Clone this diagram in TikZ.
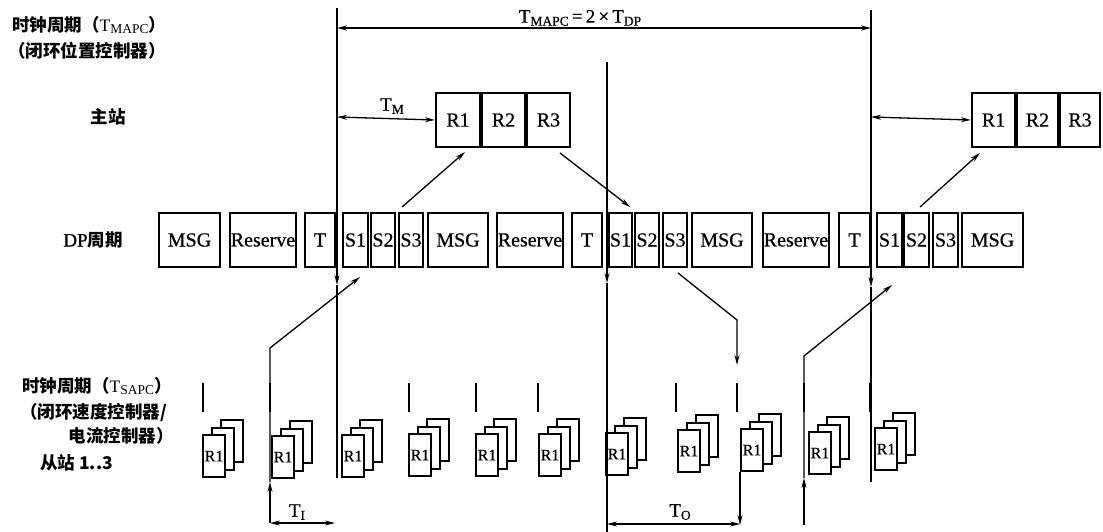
\documentclass[tikz,border=0pt]{standalone}
\usepackage{fontspec}
\setmainfont{Liberation Serif}
\newfontfamily\hs{Liberation Serif}[FakeBold=0.6]
\newfontfamily\cjk{Noto Sans CJK SC}
\usetikzlibrary{arrows.meta}
\newcommand\subs[1]{\raisebox{-0.35ex}{\fontsize{13.5}{13.5}\selectfont #1}}
\newcommand\cjf{\fontsize{17.5}{20}\selectfont\cjk\bfseries}
\newcommand\serT[1]{{\rmfamily\mdseries T\subs{#1}}}
\newcommand\rstack[3]{%
  \node[sk, anchor=north west] at (#2+18,#3-15) {};
  \node[sk, anchor=north west] at (#2+9,#3-7.5) {};
  \node[sk, anchor=north west] (#1) at (#2,#3) {R1};
}
\begin{document}
\begin{tikzpicture}[x=1pt,y=-1pt,
  box/.style={draw, line width=2.3pt, fill=white, inner sep=0pt, minimum height=54pt,
    font=\hs\fontsize{20}{20}\selectfont},
  sk/.style={draw, line width=2.1pt, fill=white, inner sep=0pt, minimum width=22pt,
    minimum height=42pt, font=\hs\fontsize{16}{16}\selectfont},
  arr/.style={-{Stealth[length=10pt,width=5pt]}, line width=1.3pt},
  dim/.style={{Stealth[length=10pt,width=5pt]}-{Stealth[length=10pt,width=5pt]}, line width=1.3pt},
  tl/.style={line width=1.7pt},
  tick/.style={line width=2pt},
  lab/.style={inner sep=0pt, font=\cjf},
  tx/.style={inner sep=0pt, font=\hs\fontsize{19}{20}\selectfont}
]
\useasboundingbox (0,0) rectangle (1103,532);

% ---------- left labels
\node[lab, anchor=west] (l1) at (12,25) {时钟周期（\serT{MAPC}）};
\node[lab, anchor=west] (l2) at (8,51) {（闭环位置控制器）};
\node[lab] (l3) at (108,117) {主站};
\node[lab] (l4) at (93,240) {{\hs\mdseries\fontsize{19}{20}\selectfont DP}周期};
\node[lab, anchor=west] (l5) at (22,386) {时钟周期（\serT{SAPC}）};
\node[lab, anchor=west] (l6) at (20,413) {（闭环速度控制器/};
\node[lab, anchor=east] (l7) at (174,436) {电流控制器）};
\node[lab, anchor=west] (l8) at (40,463) {从站 1..3};

% ---------- master boxes
\node[box, minimum width=44pt] (R1a) at (458,120) {R1};
\node[box, minimum width=43pt] (R2a) at (503.5,120) {R2};
\node[box, minimum width=43pt] (R3a) at (548.5,120) {R3};
\node[box, minimum width=43pt] (R1b) at (993.5,120) {R1};
\node[box, minimum width=41pt] (R2b) at (1037.5,120) {R2};
\node[box, minimum width=40pt] (R3b) at (1080,120) {R3};

% ---------- DP row
\node[box, minimum width=61pt] (msg1) at (189.5,240) {MSG};
\node[box, minimum width=66pt] (res1) at (263,240) {Reserve};
\node[box, minimum width=30pt] (t1) at (320,240) {T};
\node[box, minimum width=25pt] (s1a) at (355.5,240) {S1};
\node[box, minimum width=24pt] (s2a) at (383,240) {S2};
\node[box, minimum width=24pt] (s3a) at (411,240) {S3};
\node[box, minimum width=60pt] (msg2) at (458,240) {MSG};
\node[box, minimum width=66pt] (res2) at (530,240) {Reserve};
\node[box, minimum width=30pt] (t2) at (587,240) {T};
\node[box, minimum width=23pt] (s1b) at (620.5,240) {S1};
\node[box, minimum width=24pt] (s2b) at (647,240) {S2};
\node[box, minimum width=24pt] (s3b) at (675,240) {S3};
\node[box, minimum width=60pt] (msg3) at (722,240) {MSG};
\node[box, minimum width=66pt] (res3) at (796,240) {Reserve};
\node[box, minimum width=31pt] (t3) at (854.5,240) {T};
\node[box, minimum width=25pt] (s1c) at (889.5,240) {S1};
\node[box, minimum width=25pt] (s2c) at (916.5,240) {S2};
\node[box, minimum width=25pt] (s3c) at (945.5,240) {S3};
\node[box, minimum width=61pt] (msg4) at (992.5,240) {MSG};

% ---------- slave stacks
\rstack{k1}{202}{434}
\rstack{k2}{271}{435}
\rstack{k3}{341}{434}
\rstack{k4}{408}{433}
\rstack{k5}{475}{433}
\rstack{k6}{538}{433}
\rstack{k7}{605}{432}
\rstack{k8}{677}{429}
\rstack{k9}{740}{428}
\rstack{k10}{808}{431}
\rstack{k11}{874}{427}

% ---------- ticks
\foreach \x in {203,270,337,409,476,538,607,676,737,804,870}
  \draw[tick] (\x,383) -- (\x,412);

% ---------- long time lines
\coordinate (L1t) at (337,8);   \coordinate (L1a) at (337,285); \coordinate (L1b) at (337,478);
\coordinate (L2t) at (607,62);  \coordinate (L2a) at (607,283); \coordinate (L2b) at (607,532);
\coordinate (L3t) at (871,10);  \coordinate (L3a) at (871,287); \coordinate (L3b) at (871,482);
\draw[tl,arr] (L1t) -- (L1a); \draw[tl] (L1a) -- (L1b);
\draw[tl,arr] (L2t) -- (L2a); \draw[tl] (L2a) -- (L2b);
\draw[tl,arr] (L3t) -- (L3a); \draw[tl] (L3a) -- (L3b);

% ---------- dimensions
\coordinate (dA) at (337,28); \coordinate (dB) at (871,28);
\draw[dim] (dA) -- (dB);
\node[tx, anchor=south] (tmapc) at (580,26) {T\subs{MAPC}\,=\,2\,×\,T\subs{DP}};
\coordinate (tmA) at (337,117); \coordinate (tmB) at (871,117);
\draw[dim] (tmA) -- (R1a.west);
\node[tx] (tm) at (392,106) {T\subs{M}};
\draw[dim] (tmB) -- (R1b.west);

\coordinate (tiA) at (270,523); \coordinate (tiB) at (335,523);
\draw[dim] (tiA) -- (tiB);
\node[tx] (ti) at (297,512) {T\subs{I}};
\coordinate (toA) at (607,524); \coordinate (toB) at (740,524);
\draw[dim] (toA) -- (toB);
\node[tx] (to) at (680,512) {T\subs{O}};

% ---------- data arrows
\coordinate (a1s) at (402,207); \coordinate (a1e) at (465,152);
\draw[arr] (a1s) -- (a1e);
\coordinate (a2s) at (560,153); \coordinate (a2e) at (630,207);
\draw[arr] (a2s) -- (a2e);
\coordinate (a3s) at (920,207); \coordinate (a3e) at (980,153);
\draw[arr] (a3s) -- (a3e);

% input from slaves (first)
\coordinate (a4b) at (270,523); \coordinate (a4m) at (270,482);
\coordinate (a4k) at (270,348); \coordinate (a4e) at (360,277);
\draw[arr] (a4b) -- (a4m);
\draw[arr] (a4m) -- (a4k) -- (a4e);
% input from slaves (second)
\coordinate (a5b) at (804,525); \coordinate (a5m) at (804,478);
\coordinate (a5k) at (804,356); \coordinate (a5e) at (892,285);
\draw[arr] (a5b) -- (a5m);
\draw[arr] (a5m) -- (a5k) -- (a5e);
% output to slaves
\coordinate (a6s) at (678,273); \coordinate (a6k) at (737,320); \coordinate (a6e) at (737,365);
\draw[arr] (a6s) -- (a6k) -- (a6e);
\coordinate (a7e) at (740,525);
\draw[arr] (k9.south west) -- (a7e);
\end{tikzpicture}
\end{document}
